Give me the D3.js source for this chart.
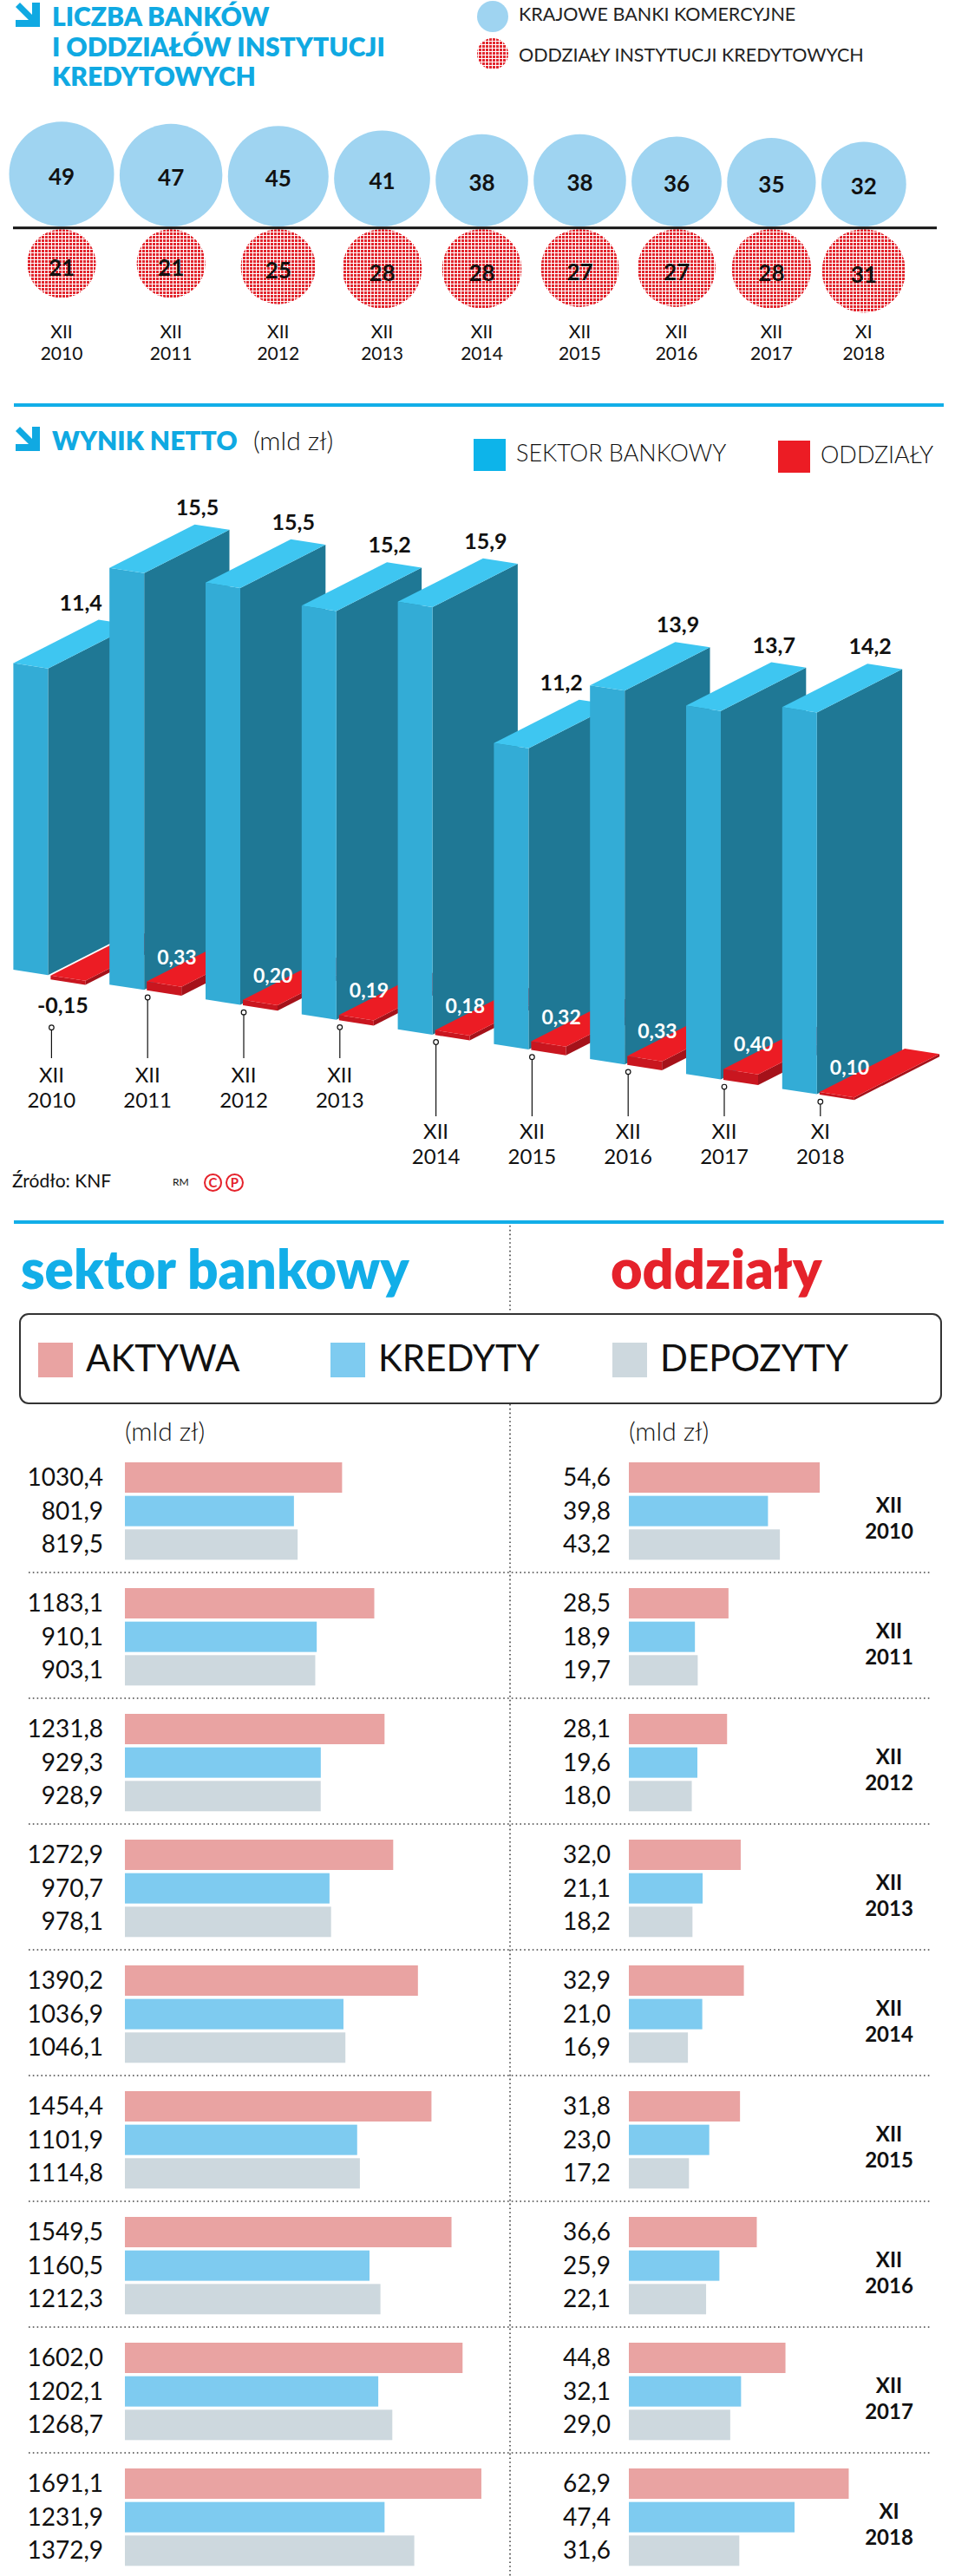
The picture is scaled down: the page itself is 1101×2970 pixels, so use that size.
<!DOCTYPE html>
<html><head><meta charset="utf-8">
<script src="https://cdn.jsdelivr.net/npm/d3@7"></script>
<style>
body{margin:0;background:#fff}
svg{display:block}
text{font-family:Lato,"Open Sans","Noto Sans",sans-serif}
</style>
</head><body>
<svg id="chart" width="1101" height="2970"></svg>
<script>
// ---------------- DATA ----------------
const periods = ["XII 2010","XII 2011","XII 2012","XII 2013","XII 2014","XII 2015","XII 2016","XII 2017","XI 2018"];
const domesticBanks = [49,47,45,41,38,38,36,35,32];
const creditBranches = [21,21,25,28,28,27,27,28,31];
const netSector = [11.4,15.5,15.5,15.2,15.9,11.2,13.9,13.7,14.2];
const netBranches = [-0.15,0.33,0.20,0.19,0.18,0.32,0.33,0.40,0.10];
const sectorAssets = [1030.4,1183.1,1231.8,1272.9,1390.2,1454.4,1549.5,1602.0,1691.1];
const sectorLoans = [801.9,910.1,929.3,970.7,1036.9,1101.9,1160.5,1202.1,1231.9];
const sectorDeposits = [819.5,903.1,928.9,978.1,1046.1,1114.8,1212.3,1268.7,1372.9];
const branchAssets = [54.6,28.5,28.1,32.0,32.9,31.8,36.6,44.8,62.9];
const branchLoans = [39.8,18.9,19.6,21.1,21.0,23.0,25.9,32.1,47.4];
const branchDeposits = [43.2,19.7,18.0,18.2,16.9,17.2,22.1,29.0,31.6];
const titleLines = ["LICZBA BANKÓW","I ODDZIAŁÓW INSTYTUCJI","KREDYTOWYCH"];
const legend1 = ["KRAJOWE BANKI KOMERCYJNE","ODDZIAŁY INSTYTUCJI KREDYTOWYCH"];
const legend2 = ["SEKTOR BANKOWY","ODDZIAŁY"];
const legend3 = ["AKTYWA","KREDYTY","DEPOZYTY"];

// ---------------- HELPERS ----------------
const CYAN = "#10a9e2", RED = "#e5222b";
const svg = d3.select("#chart");
const pl = v => v.replace(".", ",").replace("\u2212", "-");
const f1 = v => pl(d3.format(".1f")(v));
const f2 = v => pl(d3.format(".2f")(v));
const splitP = p => p.split(" ");

function arrow(g, x, y){
  g.append("path").attr("fill", CYAN)
   .attr("d", `M${x+19},${y} L${x+28},${y} L${x+28},${y+28} L${x},${y+28} L${x},${y+20} L${x+19},${y+20} Z`);
  g.append("path").attr("fill", CYAN)
   .attr("d", `M${x},${y+5} L${x+5},${y} L${x+22},${y+17} L${x+17},${y+22} Z`);
}

const defs = svg.append("defs");
const pat = defs.append("pattern").attr("id","dots").attr("width",4).attr("height",4).attr("patternUnits","userSpaceOnUse");
pat.append("rect").attr("width",4).attr("height",4).attr("fill","#fff");
pat.append("rect").attr("width",3).attr("height",3).attr("fill","#e2262e");

// ================= SECTION 1 : bubbles =================
const s1 = svg.append("g");
arrow(s1, 18, 3);
s1.selectAll("text.t1").data(titleLines).join("text")
  .attr("x", 60).attr("y", (d,i) => 30 + i*34.5)
  .attr("font-size", 30).attr("font-weight", 800).attr("fill", CYAN).text(d => d);

s1.append("circle").attr("cx",568).attr("cy",19).attr("r",18).attr("fill","#9fd4f1");
s1.append("circle").attr("cx",568).attr("cy",62).attr("r",18).attr("fill","url(#dots)");
s1.selectAll("text.l1").data(legend1).join("text")
  .attr("x", 598).attr("y", (d,i) => 24 + i*47)
  .attr("font-size", 21.5).attr("fill", "#222").text(d => d);

const rScale = d3.scaleSqrt().domain([0, d3.max(domesticBanks)]).range([0, 60.5]);
const lineY = 262.7;
const centers = [];
{ let edge = 10.5; domesticBanks.forEach(v => { const r = rScale(v); centers.push(edge + r); edge += 2*r + 6.4; }); }

s1.selectAll("circle.bank").data(domesticBanks).join("circle")
  .attr("cx", (d,i) => centers[i]).attr("cy", d => lineY - 1.5 - rScale(d)).attr("r", d => rScale(d))
  .attr("fill", "#9fd4f1");
s1.selectAll("circle.branch").data(creditBranches).join("circle")
  .attr("cx", (d,i) => centers[i]).attr("cy", d => lineY + 1.5 + rScale(d)).attr("r", d => rScale(d))
  .attr("fill", "url(#dots)");
s1.append("line").attr("x1",15).attr("x2",1080).attr("y1",lineY).attr("y2",lineY)
  .attr("stroke","#111").attr("stroke-width",3);
s1.selectAll("text.bv").data(domesticBanks).join("text")
  .attr("x", (d,i) => centers[i]).attr("y", d => lineY - 1.5 - rScale(d) + 12)
  .attr("text-anchor","middle").attr("font-size",26).attr("font-weight",700).attr("fill","#111").text(d => d);
s1.selectAll("text.rv").data(creditBranches).join("text")
  .attr("x", (d,i) => centers[i]).attr("y", d => lineY + 1.5 + rScale(d) + 14)
  .attr("text-anchor","middle").attr("font-size",26).attr("font-weight",700).attr("fill","#111").text(d => d);
periods.forEach((p,i) => {
  const [m,y] = splitP(p);
  s1.append("text").attr("x", centers[i]).attr("y", 390).attr("text-anchor","middle").attr("font-size",21).attr("fill","#111").text(m);
  s1.append("text").attr("x", centers[i]).attr("y", 415).attr("text-anchor","middle").attr("font-size",21).attr("fill","#111").text(y);
});

// ================= SECTION 2 : 3D bars =================
const s2 = svg.append("g");
s2.append("line").attr("x1",16).attr("x2",1088).attr("y1",467).attr("y2",467).attr("stroke","#12aee8").attr("stroke-width",4);
arrow(s2, 18, 492);
s2.append("text").attr("x",60).attr("y",519).attr("font-size",30).attr("font-weight",800).attr("fill",CYAN).text("WYNIK NETTO");
s2.append("text").attr("x",292).attr("y",519).attr("font-size",30).attr("font-weight",300).attr("fill","#111").text("(mld zł)");
const legCols = ["#0db4ea", "#ec1c24"];
[[546,506],[897,508]].forEach((p,i) => {
  s2.append("rect").attr("x",p[0]).attr("y",p[1]).attr("width",37).attr("height",37).attr("fill",legCols[i]);
  s2.append("text").attr("x",p[0]+49).attr("y",p[1]+26).attr("font-size",27).attr("font-weight",300).attr("fill","#111").text(legend2[i]);
});

const hScale = d3.scaleLinear().domain([0,1]).range([0,31]);
const uScale = d3.scalePoint().domain(periods).range([0, 886.4]);
const slope = 0.155, X0 = 15.4, Y0 = 1118, W = 40, DX = 98.3, DY = -50;
const P = (u, h) => [X0 + u, Y0 + slope*u - h];
const add = (p) => [p[0] + DX, p[1] + DY];
const poly = pts => pts.map(p => p.join(",")).join(" ");

periods.forEach((p,i) => {
  const g = s2.append("g");
  const u = uScale(p), h = hScale(netSector[i]);
  // blue bar
  g.append("polygon").attr("points", poly([P(u+W,0), P(u+W,h), add(P(u+W,h)), add(P(u+W,0))])).attr("fill","#1f7895");
  g.append("polygon").attr("points", poly([P(u,0), P(u+W,0), P(u+W,h), P(u,h)])).attr("fill","#33acd6");
  g.append("polygon").attr("points", poly([P(u,h), P(u+W,h), add(P(u+W,h)), add(P(u,h))])).attr("fill","#3ec6f1");
  // red slab
  const v = netBranches[i];
  const u2 = u + W + 3, h1 = hScale(Math.max(v,0)), h0 = hScale(Math.min(v,0));
  g.append("polygon").attr("points", poly([P(u2+W,h0), P(u2+W,h1), add(P(u2+W,h1)), add(P(u2+W,h0))])).attr("fill","#a5121a");
  g.append("polygon").attr("points", poly([P(u2,h0), P(u2+W,h0), P(u2+W,h1), P(u2,h1)])).attr("fill","#c9161f");
  g.append("polygon").attr("points", poly([P(u2,h1), P(u2+W,h1), add(P(u2+W,h1)), add(P(u2,h1))])).attr("fill","#ec1c24");
  const tl = P(u2,h1);
  if (v >= 0) {
    g.append("text").attr("x", tl[0] + 12).attr("y", tl[1] - 20).attr("font-size",23).attr("font-weight",700).attr("fill","#fff").text(f2(v));
  }
});
periods.forEach((p,i) => {
  const u = uScale(p), h = hScale(netSector[i]);
  const bl = add(P(u,h));
  let lx = bl[0] + 3, ly = bl[1] - 11;
  if (i < periods.length - 1) {
    const un = uScale(periods[i+1]), nTop = P(un, hScale(netSector[i+1]));
    if (nTop[1] < ly) lx = nTop[0] - 33;
  }
  s2.append("text").attr("x", lx).attr("y", ly).attr("text-anchor","middle").attr("font-size",25).attr("font-weight",700).attr("fill","#111").text(f1(netSector[i]));
  const v = netBranches[i];
  const base = P(u + W + 3, 0);
  const pin = P(u + 44, 0);
  let cy = pin[1] + 8;
  if (v < 0) {
    s2.append("text").attr("x", base[0] + 14).attr("y", base[1] + 43).attr("text-anchor","middle").attr("font-size",25).attr("font-weight",700).attr("fill","#111").text(f2(v));
    cy = base[1] + 60;
  }
  const row2 = cy + 20 > 1220;
  const lineEnd = row2 ? 1287 : 1220;
  s2.append("line").attr("x1",pin[0]).attr("x2",pin[0]).attr("y1",cy+2.8).attr("y2",lineEnd).attr("stroke","#111").attr("stroke-width",1.2);
  s2.append("circle").attr("cx",pin[0]).attr("cy",cy).attr("r",2.8).attr("fill","#fff").attr("stroke","#111").attr("stroke-width",1.2);
  const [m,y] = splitP(p);
  s2.append("text").attr("x",pin[0]).attr("y", row2 ? 1313 : 1248).attr("text-anchor","middle").attr("font-size",24).attr("fill","#111").text(m);
  s2.append("text").attr("x",pin[0]).attr("y", row2 ? 1342 : 1277).attr("text-anchor","middle").attr("font-size",24).attr("fill","#111").text(y);
});
s2.append("text").attr("x",14).attr("y",1369).attr("font-size",21).attr("fill","#111").text("Źródło: KNF");
s2.append("text").attr("x",199).attr("y",1367).attr("font-size",12).attr("fill","#111").text("RM");
["C","P"].forEach((c,i) => {
  s2.append("circle").attr("cx",245.5 + i*25).attr("cy",1363.5).attr("r",9.5).attr("fill","none").attr("stroke",RED).attr("stroke-width",2);
  s2.append("text").attr("x",245.5 + i*25).attr("y",1369).attr("text-anchor","middle").attr("font-size",15).attr("font-weight",700).attr("fill",RED).text(c);
});

// ================= SECTION 3 : assets / loans / deposits =================
const s3 = svg.append("g");
s3.append("line").attr("x1",16).attr("x2",1088).attr("y1",1409).attr("y2",1409).attr("stroke","#12aee8").attr("stroke-width",4);
const dotted = (x1,y1,x2,y2) => s3.append("line").attr("x1",x1).attr("y1",y1).attr("x2",x2).attr("y2",y2)
  .attr("stroke","#444").attr("stroke-width",1.6).attr("stroke-dasharray","1.6,3.2");
dotted(588,1413,588,1513);
dotted(588,1619,588,2970);
s3.append("text").attr("x",24).attr("y",1486).attr("font-size",62).attr("font-weight",800).attr("fill","#12aee8").text("sektor bankowy");
s3.append("text").attr("x",704).attr("y",1486).attr("font-size",63).attr("font-weight",800).attr("fill",RED).text("oddziały");
s3.append("rect").attr("x",23).attr("y",1515).attr("width",1062).attr("height",103).attr("rx",10)
  .attr("fill","#fff").attr("stroke","#333").attr("stroke-width",2);
const seriesCols = ["#e9a3a2","#7ecbf0","#cdd8de"];
[44,381,706].forEach((x,i) => {
  s3.append("rect").attr("x",x).attr("y",1548).attr("width",40).attr("height",40).attr("fill",seriesCols[i]);
  s3.append("text").attr("x",x+55).attr("y",1581).attr("font-size",42).attr("font-weight",400).attr("fill","#111").text(legend3[i]);
});
s3.append("text").attr("x",144).attr("y",1661).attr("font-size",30).attr("font-weight",300).attr("fill","#111").text("(mld zł)");
s3.append("text").attr("x",725).attr("y",1661).attr("font-size",30).attr("font-weight",300).attr("fill","#111").text("(mld zł)");

const xLeft = d3.scaleLinear().domain([0,1000]).range([0,243]);
const xRight = d3.scaleLinear().domain([0,100]).range([0,403]);
const gY = d3.scalePoint().domain(periods).range([1686, 2846]);
const rowOff = d3.scalePoint().domain(legend3).range([0, 77.3]);
const sectorSeries = [sectorAssets, sectorLoans, sectorDeposits];
const branchSeries = [branchAssets, branchLoans, branchDeposits];

periods.forEach((p,i) => {
  const top = gY(p);
  if (i > 0) dotted(33, top - 18, 1072, top - 18);
  legend3.forEach((s,k) => {
    const y = top + rowOff(s);
    const a = sectorSeries[k][i], b = branchSeries[k][i];
    s3.append("rect").attr("x",144).attr("y",y).attr("width",xLeft(a)).attr("height",35).attr("fill",seriesCols[k]);
    s3.append("rect").attr("x",725).attr("y",y).attr("width",xRight(b)).attr("height",35).attr("fill",seriesCols[k]);
    s3.append("text").attr("x",119).attr("y",y+27).attr("text-anchor","end").attr("font-size",28).attr("fill","#111").text(f1(a));
    s3.append("text").attr("x",704).attr("y",y+27).attr("text-anchor","end").attr("font-size",28).attr("fill","#111").text(f1(b));
  });
  const [m,yr] = splitP(p);
  s3.append("text").attr("x",1025).attr("y",top+58).attr("text-anchor","middle").attr("font-size",24).attr("font-weight",700).attr("fill","#111").text(m);
  s3.append("text").attr("x",1025).attr("y",top+88).attr("text-anchor","middle").attr("font-size",24).attr("font-weight",700).attr("fill","#111").text(yr);
});
</script>
</body></html>
